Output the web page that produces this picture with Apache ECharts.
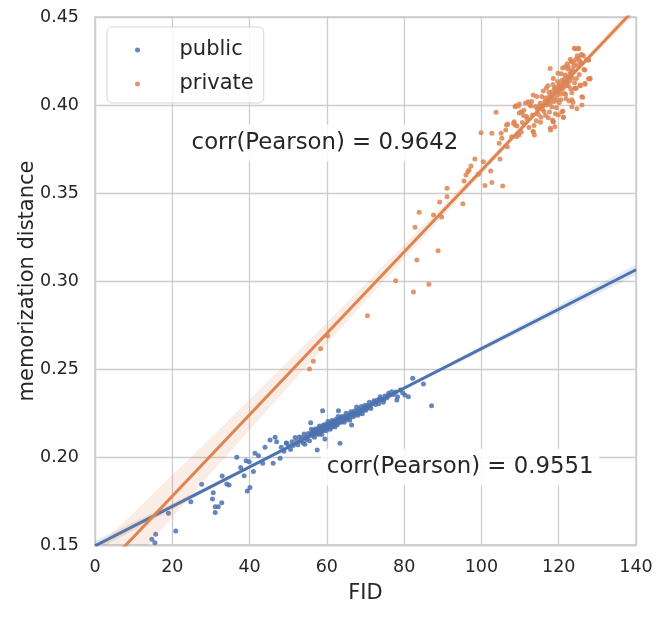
<!DOCTYPE html>
<html>
<head>
<meta charset="utf-8">
<script src="https://cdn.jsdelivr.net/npm/echarts@6/dist/echarts.min.js"></script>
<style>html,body{margin:0;padding:0;background:#fff}#c{width:665px;height:618px}</style>
</head>
<body>
<div id="c"></div>
<script>
// ---------- data ----------
const xTicks = [0, 20, 40, 60, 80, 100, 120, 140];
const yTicks = [0.15, 0.20, 0.25, 0.30, 0.35, 0.40, 0.45];

const publicPoints = [
  [20.9,0.1580],[15.7,0.1561],[14.7,0.1532],[15.5,0.1513],[19.0,0.1680],[24.8,0.1746],[27.6,0.1845],
  [30.4,0.1761],[30.6,0.1797],[31.1,0.1718],[31.1,0.1684],[31.9,0.1718],[32.8,0.1740],[32.9,0.1892],
  [34.1,0.1847],[34.7,0.1841],[36.7,0.1998],[38.6,0.1894],[39.4,0.1807],[40.1,0.1826],[39.1,0.1979],
  [39.9,0.1973],[37.7,0.1941],[41.0,0.1917],[41.4,0.2021],[42.3,0.2007],[43.4,0.1964],[44.0,0.2055],
  [45.3,0.2097],[46.6,0.2112],[47.0,0.2087],[47.9,0.1993],[46.1,0.1964],[49.6,0.2078],[58.9,0.2263],
  [63.0,0.2263],[57.5,0.2040],[63.4,0.2078],[59.5,0.2102],[54.3,0.2072],[55.8,0.2195],[66.4,0.2182],
  [82.2,0.2447],[85.0,0.2415],[87.1,0.2291],[80.2,0.2352],[81.1,0.2343],[78.3,0.2343],[78.1,0.2324],
  [76.8,0.2371],[76.3,0.2352],
  [48.2,0.2055],[48.9,0.2033],[49.5,0.2080],[50.1,0.2062],[50.6,0.2042],[51.0,0.2087],[51.3,0.2065],
  [51.8,0.2111],[52.2,0.2090],[52.5,0.2069],[52.9,0.2113],[53.2,0.2091],[53.5,0.2110],[53.9,0.2079],
  [54.1,0.2131],[54.6,0.2112],[54.8,0.2099],[55.2,0.2134],[55.5,0.2092],[55.8,0.2130],[56.0,0.2158],
  [56.3,0.2121],[56.5,0.2143],[56.8,0.2112],[57.0,0.2159],[57.2,0.2141],[57.5,0.2130],[57.7,0.2162],
  [57.9,0.2129],[58.1,0.2176],[58.3,0.2149],[58.5,0.2166],[58.7,0.2128],[58.9,0.2165],[59.1,0.2182],
  [59.3,0.2150],[59.5,0.2167],[59.7,0.2184],[59.9,0.2151],[60.1,0.2179],[60.3,0.2201],[60.5,0.2168],
  [60.7,0.2190],[60.9,0.2158],[61.1,0.2185],[61.3,0.2207],[61.5,0.2174],[61.7,0.2202],[61.9,0.2189],
  [62.1,0.2171],[62.3,0.2213],[62.5,0.2201],[62.7,0.2183],[62.9,0.2230],[63.2,0.2213],[63.4,0.2196],
  [63.7,0.2229],[64.0,0.2207],[64.2,0.2230],[64.5,0.2198],[64.8,0.2226],[65.0,0.2249],[65.3,0.2217],
  [65.6,0.2240],[65.9,0.2209],[66.2,0.2257],[66.5,0.2240],[66.8,0.2229],[67.1,0.2262],[67.4,0.2246],
  [67.7,0.2284],[68.0,0.2237],[68.3,0.2271],[68.6,0.2254],[68.9,0.2287],[69.2,0.2246],[69.5,0.2279],
  [69.8,0.2292],[70.1,0.2266],[70.4,0.2294],[70.7,0.2283],[71.0,0.2311],[71.4,0.2275],[71.8,0.2305],
  [72.2,0.2319],[72.6,0.2299],[73.0,0.2323],[73.4,0.2303],[73.8,0.2342],[74.2,0.2327],[74.6,0.2311],
  [75.0,0.2346],[75.5,0.2336],[76.0,0.2362],
  [56.1,0.2135],[56.6,0.2150],[57.4,0.2152],[57.8,0.2140],[58.2,0.2158],[58.6,0.2145],[59.0,0.2172],
  [59.4,0.2158],[59.8,0.2175],[60.2,0.2162],[60.6,0.2182],[61.0,0.2170],[61.4,0.2192],[61.8,0.2180],
  [62.2,0.2199],[62.6,0.2190],[63.0,0.2205],[63.5,0.2218],[63.9,0.2200],[64.4,0.2222],[64.9,0.2212],
  [65.4,0.2232],[66.0,0.2225],[66.6,0.2250],[67.2,0.2238],[67.9,0.2262],[68.5,0.2248],[69.4,0.2265],
  [70.3,0.2277],[71.2,0.2290],[72.4,0.2312],[73.6,0.2330],[74.8,0.2325],[75.8,0.2345],[77.2,0.2355],
  [77.8,0.2370],[79.0,0.2380],[79.6,0.2365]
];

const privatePoints = [
  [55.5,0.2500],[56.5,0.2544],[58.4,0.2615],[60.2,0.2689],[70.5,0.2803],[77.8,0.3002],[82.4,0.2938],
  [86.4,0.2981],[83.3,0.3119],[88.8,0.3172],[82.8,0.3305],[83.9,0.3390],[87.6,0.3375],[89.7,0.3364],
  [89.2,0.3449],[91.1,0.3479],[91.1,0.3527],[95.2,0.3439],[95.5,0.3568],[96.0,0.3602],[96.5,0.3621],
  [96.8,0.3631],[97.3,0.3653],[98.3,0.3693],[100.5,0.3678],[99.9,0.3843],[99.2,0.3606],[102.4,0.3625],
  [102.7,0.3559],[104.8,0.3693],[104.6,0.3782],[102.7,0.3839],[105.1,0.3839],[105.3,0.3811],[106.8,0.3892],
  [106.3,0.3858],[106.7,0.3763],[107.8,0.3820],[109.1,0.3820],[103.8,0.3959],[108.7,0.3886],[109.7,0.3830],
  [108.9,0.3996],[109.8,0.4006],[110.4,0.3962],[111.7,0.3934],[112.1,0.4019],[105.5,0.3540],[100.9,0.3542],
  [113.7,0.3830],[117.9,0.3858],[119.0,0.3877],
  [108.5,0.3905],[109.2,0.3881],[109.8,0.3955],[110.3,0.3846],[110.9,0.3940],[111.4,0.4012],[111.8,0.3921],
  [112.3,0.3872],[112.8,0.3994],[113.2,0.3943],[113.6,0.3883],[114.0,0.3992],[114.3,0.4049],[114.7,0.3948],
  [115.0,0.3995],[115.3,0.3902],[115.6,0.4049],[115.9,0.3996],[116.2,0.3963],[116.5,0.4040],[116.8,0.4097],
  [117.0,0.4011],[117.3,0.3928],[117.5,0.4073],[117.8,0.4010],[118.0,0.4054],[118.2,0.3989],[118.5,0.4116],
  [118.7,0.4041],[118.9,0.4095],[119.1,0.3950],[119.3,0.4074],[119.5,0.4029],[119.7,0.4134],[119.9,0.4078],
  [120.1,0.4013],[120.3,0.4118],[120.5,0.4062],[120.7,0.4177],[120.9,0.4091],[121.1,0.3966],[121.3,0.4131],
  [121.5,0.4065],[121.7,0.4170],[121.9,0.4035],[122.1,0.4129],[122.3,0.4204],[122.5,0.4109],[122.7,0.4023],
  [122.9,0.4178],[123.1,0.4092],[123.3,0.4247],[123.5,0.4152],[123.7,0.4016],[123.9,0.4221],[124.1,0.4126],
  [124.3,0.4320],[124.5,0.4095],[124.7,0.3979],[124.9,0.4224],[125.1,0.4319],[125.3,0.4173],[125.6,0.4110],
  [125.9,0.4287],[126.2,0.4044],[126.5,0.4201],[126.8,0.4118],[127.2,0.4257],[127.7,0.4149],[128.1,0.4148],
  [114.5,0.3975],[115.2,0.4010],[115.8,0.3975],[116.4,0.4020],[116.9,0.4000],[117.4,0.4045],[117.9,0.4030],
  [118.3,0.4075],[118.8,0.4020],[119.2,0.4100],[119.6,0.4055],[120.0,0.4110],[120.4,0.4085],[120.8,0.4140],
  [121.2,0.4100],[121.6,0.4150],[122.0,0.4110],[122.4,0.4160],[122.8,0.4135],[123.2,0.4190],[123.6,0.4200],
  [124.0,0.4240],[124.4,0.4260],[124.8,0.4280],[125.4,0.4250],[125.8,0.4240],[126.4,0.4280],[113.0,0.4020],
  [112.5,0.4000],[116.0,0.4080],[117.2,0.4110],[118.6,0.4150],[119.8,0.4180],[121.0,0.4210],[122.2,0.4235],
  [123.0,0.4260],[119.4,0.3985],[120.6,0.4030],[121.8,0.4060],[123.4,0.4070],[124.6,0.4150],[117.6,0.3960],
  [116.6,0.3940],[118.4,0.3915],[115.4,0.3930],[114.2,0.3910],[113.4,0.3850],[110.6,0.3900],[111.0,0.3970],
  [109.6,0.3995],[108.7,0.3990],[106.5,0.3886],[108.3,0.3896],[113.4,0.3848],[117.8,0.3868],[118.6,0.3905],
  [119.9,0.3943],[121.2,0.3930],[123.4,0.3990],[126.0,0.4000],[127.7,0.4256],[126.8,0.4199],[125.5,0.4114],
  [124.2,0.4095],[122.5,0.4218],[121.6,0.4218],[123.4,0.4246],[117.8,0.4208],[113.4,0.4057],
  [124.0,0.4322],[125.1,0.4322],[126.0,0.4284],[127.7,0.4256],[125.1,0.4265],[128.1,0.4152],[126.8,0.4123],
  [126.0,0.4047],[124.2,0.4095],[123.4,0.4030],[120.8,0.3960],[121.2,0.3930],[118.6,0.3905]
];

// regression fits (endpoints)
const publicFit = [[0, 0.1495], [140, 0.3064]];
const privateFit = [[0, 0.1315], [140, 0.4553]];

// confidence bands
const publicBandX  = [0, 30, 60, 90, 120, 140];
const publicBandLo = [0.1467, 0.1818, 0.2161, 0.2492, 0.2818, 0.3034];
const publicBandHi = [0.1523, 0.1844, 0.2175, 0.2516, 0.2862, 0.3094];

const privateBandX  = [0, 8, 20, 30, 45, 60, 75, 90, 105, 120, 140];
const privateBandLo = [0.1155, 0.1360, 0.1658, 0.1909, 0.2276, 0.2643, 0.3005, 0.3367, 0.3724, 0.4076, 0.4523];
const privateBandHi = [0.1475, 0.1640, 0.1898, 0.2109, 0.2436, 0.2763, 0.3095, 0.3427, 0.3764, 0.4106, 0.4583];

const annX = [25, 60];
const annY = [0.3784, 0.1943];
const annText = ['corr(Pearson) = 0.9642', 'corr(Pearson) = 0.9551'];

// ---------- chart ----------
const BLUE = '#4C72B0', ORANGE = '#DD8452', TXT = '#262626', GRID = '#cccccc';
const FONT = 'DejaVu Sans';

function bandSeries(xs, lo, hi, color, z) {
  return {
    type: 'custom', coordinateSystem: 'cartesian2d', clip: true, silent: true, z: z,
    data: xs.map((x, i) => [x, lo[i], hi[i]]),
    encode: { x: 0, y: [1, 2] },
    renderItem: function (params, api) {
      if (params.dataIndex !== 0) return;
      const pts = [];
      for (let i = 0; i < xs.length; i++) pts.push(api.coord([xs[i], hi[i]]));
      for (let i = xs.length - 1; i >= 0; i--) pts.push(api.coord([xs[i], lo[i]]));
      return { type: 'polygon', shape: { points: pts }, style: { fill: color, opacity: 0.15 } };
    }
  };
}

const chart = echarts.init(document.getElementById('c'), null, { renderer: 'canvas' });
chart.setOption({
  animation: false,
  backgroundColor: '#ffffff',
  grid: { left: 95, right: 29, top: 17, bottom: 73, show: true, borderColor: GRID, borderWidth: 1.3, backgroundColor: 'transparent' },
  legend: {
    left: 107, top: 27, orient: 'vertical',
    itemWidth: 40, itemHeight: 5, itemGap: 10,
    padding: [11, 10, 7, 28],
    backgroundColor: 'rgba(255,255,255,0.8)', borderColor: '#d6d6d6', borderWidth: 1, borderRadius: 5,
    textStyle: { fontSize: 21, color: TXT, fontFamily: FONT, lineHeight: 24, padding: [0, 0, 0, 17] },
    data: [{ name: 'public', icon: 'circle' }, { name: 'private', icon: 'circle' }]
  },
  xAxis: {
    type: 'value', min: xTicks[0], max: xTicks[xTicks.length - 1], interval: 20,
    name: 'FID', nameLocation: 'middle', nameGap: 38,
    nameTextStyle: { fontSize: 21, color: TXT, fontFamily: FONT },
    axisLine: { show: true, lineStyle: { color: GRID, width: 1.3 } },
    axisTick: { show: false },
    axisLabel: { fontSize: 17.5, color: TXT, fontFamily: FONT, margin: 13 },
    splitLine: { show: true, lineStyle: { color: GRID, width: 1.3 } }
  },
  yAxis: {
    type: 'value', min: yTicks[0], max: yTicks[yTicks.length - 1], interval: 0.05,
    name: 'memorization distance', nameLocation: 'middle', nameGap: 57, nameMoveOverlap: false,
    nameTextStyle: { fontSize: 21, color: TXT, fontFamily: FONT },
    axisLine: { show: true, lineStyle: { color: GRID, width: 1.3 } },
    axisTick: { show: false },
    axisLabel: { fontSize: 17.5, color: TXT, fontFamily: FONT, margin: 16, formatter: v => v.toFixed(2) },
    splitLine: { show: true, lineStyle: { color: GRID, width: 1.3 } }
  },
  series: [
    { name: 'public', type: 'scatter', data: publicPoints, symbolSize: 5, z: 2,
      itemStyle: { color: BLUE, opacity: 0.85 } },
    bandSeries(publicBandX, publicBandLo, publicBandHi, BLUE, 3),
    { name: 'publicFit', type: 'line', data: publicFit, showSymbol: false, symbol: 'none', z: 4,
      lineStyle: { color: BLUE, width: 3 }, clip: true },
    { name: 'private', type: 'scatter', data: privatePoints, symbolSize: 5, z: 5,
      itemStyle: { color: ORANGE, opacity: 0.85 } },
    bandSeries(privateBandX, privateBandLo, privateBandHi, ORANGE, 6),
    { name: 'privateFit', type: 'line', data: privateFit, showSymbol: false, symbol: 'none', z: 7,
      lineStyle: { color: ORANGE, width: 3 }, clip: true },
    { type: 'custom', coordinateSystem: 'cartesian2d', silent: true, z: 10, clip: false,
      data: annX.map((x, i) => [x, annY[i]]),
      renderItem: function (params, api) {
        const p = api.coord([api.value(0), api.value(1)]);
        return { type: 'text', style: {
          text: annText[params.dataIndex], x: p[0] - 6, y: p[1],
          align: 'left', verticalAlign: 'middle',
          fill: TXT, font: '22.8px "DejaVu Sans"',
          backgroundColor: 'rgba(255,255,255,0.85)', padding: [7, 6, 7, 6]
        } };
      }
    }
  ]
});
</script>
</body>
</html>
